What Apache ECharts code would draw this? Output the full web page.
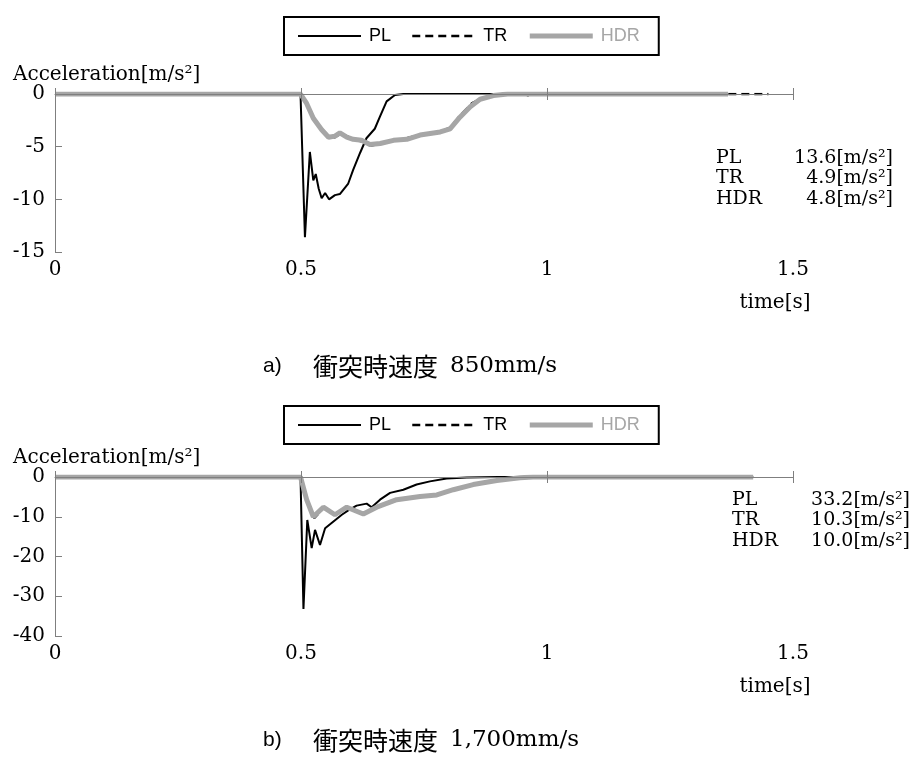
<!DOCTYPE html>
<html>
<head>
<meta charset="utf-8">
<script src="https://cdn.jsdelivr.net/npm/echarts@6/dist/echarts.min.js"></script>
<style>
  html, body { margin: 0; padding: 0; background: #fff; }
  #chart { width: 914px; height: 759px; }
</style>
</head>
<body>
<div id="chart"></div>
<script>
// ---- Data: impact at 850 mm/s (panel a) ----
const plTimeA = [0, 0.499, 0.508, 0.518, 0.525, 0.530, 0.536, 0.542, 0.549, 0.557, 0.569, 0.579, 0.596, 0.606, 0.620, 0.633, 0.650, 0.660, 0.674, 0.691, 0.708, 1.368];
const plAccA  = [0, 0, -13.6, -5.5, -8.2, -7.6, -9.0, -9.9, -9.4, -10.0, -9.6, -9.5, -8.5, -7.2, -5.6, -4.2, -3.3, -2.2, -0.7, -0.1, 0, 0];
const trTimeA = [0, 0.499, 0.5115, 0.525, 0.542, 0.556, 0.569, 0.579, 0.593, 0.606, 0.623, 0.642, 0.661, 0.688, 0.715, 0.742, 0.783, 0.803, 0.823, 0.847, 0.864, 0.891, 0.92, 0.955, 0.965, 0.975, 1.45];
const trAccA  = [0, 0, -0.8, -2.2, -3.3, -4.0, -4.1, -3.8, -4.0, -4.3, -4.5, -4.9, -4.7, -4.4, -4.2, -3.9, -3.6, -3.2, -2.1, -0.9, -0.5, -0.2, 0, 0, -0.2, 0, 0];
const hdrTimeA = [0, 0.499, 0.5115, 0.525, 0.542, 0.556, 0.569, 0.579, 0.593, 0.606, 0.623, 0.640, 0.661, 0.688, 0.715, 0.742, 0.783, 0.803, 0.823, 0.844, 0.864, 0.891, 0.92, 1.368];
const hdrAccA  = [0, 0, -0.9, -2.3, -3.4, -4.1, -4.0, -3.7, -4.1, -4.3, -4.4, -4.8, -4.7, -4.4, -4.3, -3.9, -3.6, -3.3, -2.2, -1.2, -0.5, -0.15, 0, 0];

// ---- Data: impact at 1,700 mm/s (panel b) ----
const plTimeB = [0, 0.499, 0.505, 0.5128, 0.5217, 0.5285, 0.5386, 0.549, 0.566, 0.583, 0.596, 0.613, 0.6335, 0.6436, 0.6606, 0.681, 0.708, 0.735, 0.762, 0.796, 0.837, 0.9, 1.419];
const plAccB  = [0, 0, -33.2, -10.8, -17.9, -13.3, -17.1, -12.9, -11.2, -9.5, -8.4, -7.2, -6.7, -7.6, -5.7, -4.0, -3.2, -1.9, -1.1, -0.4, -0.15, 0, 0];
const trTimeB = [0, 0.499, 0.5115, 0.527, 0.5454, 0.569, 0.593, 0.6267, 0.6538, 0.6945, 0.742, 0.776, 0.8096, 0.850, 0.898, 0.945, 0.972, 1.419];
const trAccB  = [0, 0, -5.9, -10.3, -7.8, -9.4, -7.5, -9.2, -7.7, -5.8, -4.8, -4.4, -3.1, -1.8, -0.8, -0.2, 0, 0];
const hdrTimeB = [0, 0.499, 0.5115, 0.525, 0.5454, 0.569, 0.593, 0.6267, 0.6538, 0.6945, 0.742, 0.776, 0.8096, 0.850, 0.898, 0.945, 0.972, 1.419];
const hdrAccB  = [0, 0, -5.7, -10.0, -7.6, -9.5, -7.6, -9.3, -7.6, -5.7, -4.9, -4.5, -3.2, -1.9, -0.9, -0.2, 0, 0];

// ---- Axis settings / text ----
const timeTicks = [0, 0.5, 1, 1.5];
const accTicksA = [0, -5, -10, -15];
const accTicksB = [0, -10, -20, -30, -40];
const seriesNames = ['PL', 'TR', 'HDR'];
const captionA = ['a)', '衝突時速度', '850mm/s'];
const captionB = ['b)', '衝突時速度', '1,700mm/s'];
const yTitle = 'Acceleration[m/s²]';
const xTitle = 'time[s]';

const SERIF = '"DejaVu Serif", serif';
const SANS = '"Liberation Sans", Arial, sans-serif';
const CJK = '"Noto Sans CJK JP", sans-serif';
const AXIS_GRAY = '#7f7f7f';
const HDR_GRAY = '#a6a6a6';

const pairs = (t, v) => t.map((x, i) => [x, v[i]]);
const peak = v => (-Math.min(...v)).toFixed(1);

const panels = [
  { top: 94, height: 158, yTicks: accTicksA, pl: [plTimeA, plAccA], tr: [trTimeA, trAccA], hdr: [hdrTimeA, hdrAccA],
    legendTop: 17, noteX: 716, noteR: 893, noteY: 158, caption: captionA, captionY: 366 },
  { top: 477, height: 159, yTicks: accTicksB, pl: [plTimeB, plAccB], tr: [trTimeB, trAccB], hdr: [hdrTimeB, hdrAccB],
    legendTop: 406, noteX: 732, noteR: 910, noteY: 500, caption: captionB, captionY: 740 }
];

const grid = [], xAxis = [], yAxis = [], series = [], legend = [], graphic = [];

panels.forEach((p, gi) => {
  const yMin = Math.min(...p.yTicks), yMax = Math.max(...p.yTicks);
  const step = Math.abs(p.yTicks[1] - p.yTicks[0]);
  grid.push({ left: 55, top: p.top, width: 738, height: p.height, outerBoundsMode: 'none' });

  const xBase = { type: 'value', gridIndex: gi, min: timeTicks[0], max: timeTicks[timeTicks.length - 1],
                  interval: timeTicks[1] - timeTicks[0], splitLine: { show: false } };
  const xi = xAxis.length;
  // labels along the bottom edge
  xAxis.push(Object.assign({}, xBase, {
    position: 'bottom',
    axisLine: { show: false, onZero: false },
    axisTick: { show: false },
    axisLabel: { margin: 8, color: '#000', fontFamily: SERIF, fontSize: 20 }
  }));
  // zero line with ticks pointing up
  xAxis.push(Object.assign({}, xBase, {
    position: 'bottom', z: 5,
    axisLine: { show: true, onZero: true, onZeroAxisIndex: gi, lineStyle: { color: AXIS_GRAY, width: 1 } },
    axisTick: { show: true, inside: true, length: 6, lineStyle: { color: AXIS_GRAY } },
    axisLabel: { show: false }
  }));
  // ticks pointing down from the zero line
  xAxis.push(Object.assign({}, xBase, {
    position: 'bottom', z: 5,
    axisLine: { show: false, onZero: true, onZeroAxisIndex: gi },
    axisTick: { show: true, inside: false, length: 6, lineStyle: { color: AXIS_GRAY } },
    axisLabel: { show: false }
  }));

  yAxis.push({
    type: 'value', gridIndex: gi, min: yMin, max: yMax, interval: step,
    axisLine: { show: true, onZero: false, lineStyle: { color: AXIS_GRAY, width: 1 } },
    axisTick: { show: true, inside: true, length: 7, lineStyle: { color: AXIS_GRAY } },
    axisLabel: { margin: 10, color: '#000', fontFamily: SERIF, fontSize: 20 },
    splitLine: { show: false }
  });

  const common = { type: 'line', xAxisIndex: xi, yAxisIndex: gi, symbol: 'none', showSymbol: false, animation: false };
  series.push(Object.assign({}, common, { name: 'PL', data: pairs(p.pl[0], p.pl[1]),
    lineStyle: { color: '#000', width: 2 }, itemStyle: { color: '#000' }, z: 2 }));
  series.push(Object.assign({}, common, { name: 'TR', data: pairs(p.tr[0], p.tr[1]),
    lineStyle: { color: '#000', width: 2.5, type: [8, 5] }, itemStyle: { color: '#000' }, z: 3 }));
  series.push(Object.assign({}, common, { name: 'HDR', data: pairs(p.hdr[0], p.hdr[1]),
    lineStyle: { color: HDR_GRAY, width: 5 }, itemStyle: { color: HDR_GRAY }, z: 4 }));

  legend.push({
    left: 284, top: p.legendTop, orient: 'horizontal',
    itemWidth: 63, itemHeight: 16, itemGap: 20,
    padding: [10, 19, 10, 13],
    borderColor: '#000', borderWidth: 2,
    selectedMode: false,
    itemStyle: { opacity: 0, borderWidth: 0 },
    textStyle: { fontFamily: SANS, fontSize: 18, color: '#000', padding: [0, 0, 0, 3] },
    data: [
      { name: 'PL', lineStyle: { width: 2, color: '#000' } },
      { name: 'TR', lineStyle: { width: 2.5, color: '#000', type: [8, 5] } },
      { name: 'HDR', lineStyle: { width: 5, color: HDR_GRAY }, textStyle: { color: HDR_GRAY } }
    ]
  });

  // axis titles
  graphic.push({ type: 'text', left: 13, top: p.top - 29, silent: true,
    style: { text: yTitle, font: '20px ' + SERIF, fill: '#000' } });
  graphic.push({ type: 'text', x: 775, y: p.top + p.height + 51, silent: true,
    style: { text: xTitle, font: '20px ' + SERIF, fill: '#000', align: 'center', verticalAlign: 'middle' } });

  // peak values
  const peaks = [peak(p.pl[1]), peak(p.tr[1]), peak(p.hdr[1])];
  seriesNames.forEach((nm, k) => {
    const y = p.noteY + k * 20.5;
    graphic.push({ type: 'text', x: p.noteX, y: y, silent: true,
      style: { text: nm, font: '19px ' + SERIF, fill: '#000', align: 'left', verticalAlign: 'middle' } });
    graphic.push({ type: 'text', x: p.noteR, y: y, silent: true,
      style: { text: peaks[k] + '[m/s²]', font: '19px ' + SERIF, fill: '#000', align: 'right', verticalAlign: 'middle' } });
  });

  // caption
  graphic.push({ type: 'text', x: 263, y: p.captionY, silent: true,
    style: { text: p.caption[0], font: '21px ' + SANS, fill: '#000', verticalAlign: 'middle' } });
  graphic.push({ type: 'text', x: 313, y: p.captionY, silent: true,
    style: { text: p.caption[1], font: '25px ' + CJK, fill: '#000', verticalAlign: 'middle' } });
  graphic.push({ type: 'text', x: 450, y: p.captionY, silent: true,
    style: { text: p.caption[2], font: '23px ' + SERIF, fill: '#000', verticalAlign: 'middle' } });
});

const chart = echarts.init(document.getElementById('chart'), null, { renderer: 'canvas' });
chart.setOption({
  backgroundColor: '#fff',
  animation: false,
  grid, xAxis, yAxis, series, legend, graphic
});
</script>
</body>
</html>
